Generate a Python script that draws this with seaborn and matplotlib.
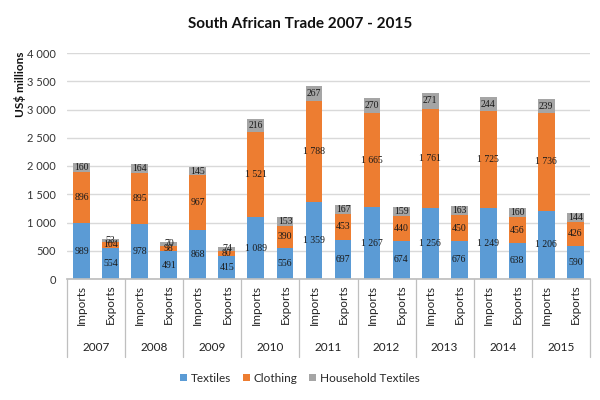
import numpy as np
import pandas as pd
import matplotlib
matplotlib.use("Agg")
import matplotlib.pyplot as plt
from matplotlib.patches import Patch
import seaborn as sns

# data (US$ millions)
years = ["2007", "2008", "2009", "2010", "2011", "2012", "2013", "2014", "2015"]
flows = ["Imports", "Exports"]
series = ["Textiles", "Clothing", "Household Textiles"]

textiles_imp = [989, 978, 868, 1089, 1359, 1267, 1256, 1249, 1206]
clothing_imp = [896, 895, 967, 1521, 1788, 1665, 1761, 1725, 1736]
household_imp = [160, 164, 145, 216, 267, 270, 271, 244, 239]
textiles_exp = [554, 491, 415, 556, 697, 674, 676, 638, 590]
clothing_exp = [104, 98, 80, 390, 453, 440, 450, 456, 426]
household_exp = [53, 70, 74, 153, 167, 159, 163, 160, 144]

colors = ["#5B9BD5", "#ED7D31", "#A5A5A5"]

sns.set_theme(style="white")
plt.rcParams["font.family"] = ["Lato", "DejaVu Sans"]

# long table, one row per bar
rows = []
for i, y in enumerate(years):
    rows.append((y, "Imports", textiles_imp[i], clothing_imp[i], household_imp[i]))
    rows.append((y, "Exports", textiles_exp[i], clothing_exp[i], household_exp[i]))
df = pd.DataFrame(rows, columns=["year", "flow"] + series)
df["key"] = df["year"] + " " + df["flow"]
df["cum1"] = df["Textiles"]
df["cum2"] = df["cum1"] + df["Clothing"]
df["cum3"] = df["cum2"] + df["Household Textiles"]

fig = plt.figure(figsize=(6, 4), dpi=100)
ax = fig.add_axes([0.112, 0.3025, 0.871, 0.565])

order = list(df["key"])
bw = 0.58
# stacked bars: draw cumulative totals from largest to smallest
for col, c in zip(["cum3", "cum2", "cum1"], colors[::-1]):
    sns.barplot(data=df, x="key", y=col, order=order, color=c, saturation=1,
                width=bw, edgecolor="none", errorbar=None, ax=ax, zorder=2)

def fmt(v):
    return f"{v:,}".replace(",", " ")

# data labels in the middle of each segment
for i, r in df.iterrows():
    lows = [0, r["cum1"], r["cum2"]]
    for s, lo in zip(series, lows):
        v = r[s]
        ax.text(i, lo + v / 2, fmt(v), ha="center", va="center", fontsize=7,
                family="Liberation Serif", color="#1a1a1a", zorder=3)

ax.set_ylim(0, 4000)
ax.set_xlim(-0.5, len(order) - 0.5)
ax.set_yticks(np.arange(0, 4001, 500))
ax.set_yticklabels([fmt(v) for v in range(0, 4001, 500)], fontsize=8, color="#333333")
ax.yaxis.grid(True, color="#D9D9D9", linewidth=1, zorder=0)
ax.set_axisbelow(True)
for sp in ["top", "right", "left"]:
    ax.spines[sp].set_visible(False)
ax.spines["bottom"].set_color("#BFBFBF")
ax.tick_params(axis="y", length=0, pad=8)

ax.set_xticks(range(len(order)))
ax.set_xticklabels(list(df["flow"]), rotation=90, fontsize=8.5, color="#222222")
ax.tick_params(axis="x", length=0, pad=4)
ax.set_xlabel("")
ax.set_ylabel("")

# year row and group separators under the axis
trans = ax.get_xaxis_transform()
for k, y in enumerate(years):
    ax.text(2 * k + 0.5, -0.305, y, transform=trans, ha="center", va="center",
            fontsize=8.5, color="#222222")
for k in range(len(years) + 1):
    ax.plot([2 * k - 0.5] * 2, [0, -0.345], transform=trans, color="#BFBFBF",
            linewidth=0.9, clip_on=False)

fig.text(0.5, 0.94, "South African Trade 2007 - 2015", ha="center", va="center",
         fontsize=11, fontweight="bold", color="#111111")
fig.text(0.033, 0.79, "US$ millions", rotation=90, ha="center", va="center",
         fontsize=8.5, fontweight="bold", color="#111111")

handles = [Patch(facecolor=c, edgecolor="none") for c in colors]
fig.legend(handles, series, loc="center", bbox_to_anchor=(0.5, 0.055), ncol=3,
           frameon=False, fontsize=8.5, handlelength=0.6, handleheight=0.6,
           handletextpad=0.3, columnspacing=1.0)

fig.savefig("out.png", dpi=100)
